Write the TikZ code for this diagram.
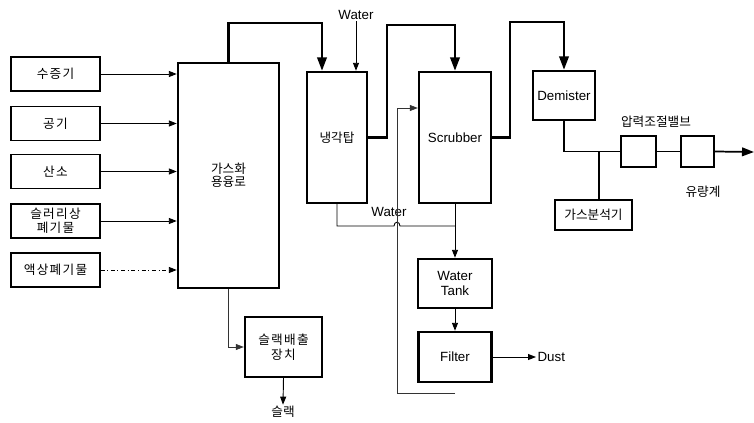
\documentclass[tikz,border=0pt]{standalone}
\usepackage{fontspec}
\setmainfont{Liberation Sans}
\newfontfamily\kr[LetterSpace=10]{Noto Sans CJK KR}
\newfontfamily\krn{Noto Sans CJK KR}
\usetikzlibrary{arrows.meta}
\begin{document}
\begin{tikzpicture}[x=0.75pt,y=-0.75pt,
  every node/.style={inner sep=1pt,align=center,font=\fontsize{10}{11}\selectfont},
  ktext/.style={font=\kr\fontsize{9.5}{11}\selectfont},
  kntext/.style={font=\krn\fontsize{9.5}{11}\selectfont},
  thinbox/.style={draw,line width=0.8pt,minimum width=66.75pt,minimum height=25.5pt,ktext},
  thickbox/.style={draw,line width=1.8pt},
  medbox/.style={draw,line width=1.3pt},
  gas/.style={line width=1.8pt,-{Triangle[length=10pt,width=7pt]}},
  flowarr/.style={line width=0.7pt,-{Triangle[length=6pt,width=4.5pt]}},
  conn/.style={line width=0.7pt},
  faint/.style={line width=0.5pt,black!80}]
\useasboundingbox (0,0) rectangle (754,422);
% input boxes
\node[thinbox] (in1) at (55.5,74) {수증기};
\node[thinbox] (in2) at (55.5,123.5) {공기};
\node[thinbox] (in3) at (55.5,171.5) {산소};
\node[thinbox,font=\kr\fontsize{9.5}{10.5}\selectfont] (in4) at (55.5,221) {슬러리상\\폐기물};
\node[thinbox] (in5) at (55.5,270) {액상폐기물};
% main units
\node[thickbox,minimum width=75.75pt,minimum height=168.75pt,font=\krn\fontsize{9.5}{9.5}\selectfont] (furnace) at (228.5,175.5) {가스화\\용융로};
\node[thickbox,minimum width=45pt,minimum height=98.25pt,kntext] (cooler) at (337,137.5) {냉각탑};
\node[thickbox,minimum width=54pt,minimum height=98.25pt] (scrubber) at (455,137.5) {Scrubber};
\node[thickbox,minimum width=46.5pt,minimum height=36.75pt] (demister) at (564,95.5) {Demister};
\node[medbox,minimum width=26pt,minimum height=23.25pt] (valve) at (638.5,151.5) {};
\node[medbox,minimum width=25pt,minimum height=23.25pt] (flow) at (697.5,151.5) {};
\node[medbox,minimum width=57.75pt,minimum height=22.5pt,kntext] (analyzer) at (593.5,215) {가스분석기};
\node[thickbox,minimum width=55.5pt,minimum height=36.75pt,font=\fontsize{10}{11.25}\selectfont] (tank) at (455,283.5) {Water\\Tank};
\node[thickbox,minimum width=54.75pt,minimum height=37.5pt] (filter) at (455,357) {Filter};
\node[thickbox,minimum width=57.75pt,minimum height=45pt,ktext] (slag) at (283.5,347) {슬랙배출\\장치};
% labels
\node (water1) at (356,15) {Water};
\node (water2) at (389,212) {Water};
\node[kntext] (valvelbl) at (656,122) {압력조절밸브};
\node[kntext] (flowlbl) at (703,192) {유량계};
\node[anchor=west] (dust) at (536,357) {Dust};
\node[kntext] (slaglbl) at (283,412) {슬랙};
\coordinate (out) at (754,152);
\coordinate (rc) at (455,393);
% inputs to furnace
\foreach \i in {1,2,3,4}{\draw[flowarr] (in\i.east) -- (in\i.east -| furnace.west);}
\draw[flowarr,dash dot] (in5.east) -- (in5.east -| furnace.west);
% gas lines
\draw[gas] (furnace.north) |- (322,23) -- (322,23 |- cooler.north);
\draw[gas] (cooler.east) -| (387,25) -| (scrubber.north);
\draw[gas] (scrubber.east) -| (510,22) -| (demister.north);
\draw[line width=1.3pt] (demister.south) |- (valve.west);
\draw[line width=1.3pt] (valve.east) -- (flow.west);
\draw[line width=1.3pt,-{Triangle[length=9pt,width=6.5pt]}] (flow.east) -- (out);
\draw[line width=1.1pt] (599,152) -- (599,152 |- analyzer.north);
% water
\draw[flowarr] (water1.south) -- (water1.south |- cooler.north);
\draw[conn] (cooler.south) |- (394,226) .. controls (394,221) and (400,221) .. (400,226) -- (455,226);
\draw[flowarr] (scrubber.south) -- (tank.north);
\draw[flowarr] (tank.south) -- (filter.north);
\draw[flowarr] (filter.east) -- (dust.west);
\draw[faint,-{Triangle[length=6pt,width=4.5pt]}] (rc) -| (397,108) -- (397,108 -| scrubber.west);
% slag
\draw[faint,-{Triangle[length=6pt,width=4.5pt]}] (furnace.south) |- (slag.west);
\draw[flowarr] (slag.south) -- (slaglbl.north);
\end{tikzpicture}
\end{document}
